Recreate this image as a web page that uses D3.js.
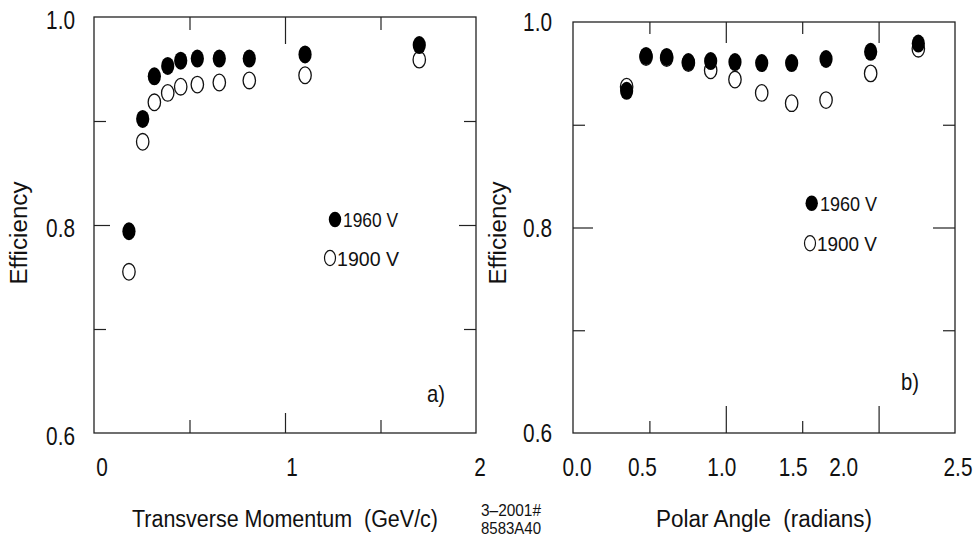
<!DOCTYPE html>
<html>
<head>
<meta charset="utf-8">
<script src="https://cdn.jsdelivr.net/npm/d3@7"></script>
<style>
  html, body { margin: 0; padding: 0; background: #fff; }
  svg { display: block; }
  text { font-family: "Liberation Sans", Arial, Helvetica, sans-serif; fill: #111; white-space: pre; }
</style>
</head>
<body>
<svg id="chart" width="977" height="546"></svg>
<script>
// ---- Data ----
const momentumX   = [0.183, 0.255, 0.316, 0.386, 0.454, 0.541, 0.656, 0.813, 1.105, 1.703];
const momentum1960 = [0.794, 0.902, 0.943, 0.953, 0.958, 0.960, 0.960, 0.960, 0.964, 0.973];
const momentum1900 = [0.755, 0.880, 0.918, 0.927, 0.933, 0.935, 0.937, 0.939, 0.944, 0.959];

const angleX    = [0.351, 0.478, 0.613, 0.755, 0.901, 1.060, 1.235, 1.431, 1.656, 1.948, 2.260];
const angle1960 = [0.933, 0.967, 0.966, 0.961, 0.962, 0.961, 0.960, 0.960, 0.964, 0.971, 0.979];
const angle1900 = [0.937, 0.966, 0.965, 0.960, 0.953, 0.944, 0.931, 0.921, 0.924, 0.950, 0.974];

const seriesNames = ["1960 V", "1900 V"];
const yTickLabels = ["1.0", "0.8", "0.6"];
const yTickValues = [1.0, 0.8, 0.6];
const yMajor = [0.8];
const yMinor = [0.9, 0.7];
const leftXTickLabels = ["0", "1", "2"];
const leftXTickValues = [0, 1, 2];
const leftXMajor = [1];
const leftXMinor = [0.5, 1.5];
const rightXTickLabels = ["0.0", "0.5", "1.0", "1.5", "2.0", "2.5"];
const rightXTickValues = [0, 0.5, 1.0, 1.5, 2.0, 2.5];
const rightXMajor = [1.0, 2.0];
const rightXMinor = [0.5, 1.5];

// ---- Drawing ----
const svg = d3.select("#chart");
svg.append("rect").attr("width", 977).attr("height", 546).attr("fill", "#fff");

function addText(parent, x, y, str, o) {
  const g = parent.append("g").attr("transform", `translate(${x},${y})` + (o.rotate ? ` rotate(${o.rotate})` : ""));
  const t = g.append("text").text(str)
    .attr("xml:space", "preserve")
    .attr("font-size", o.size)
    .attr("text-anchor", o.anchor || "start");
  if (o.len) {
    t.attr("textLength", o.len).attr("lengthAdjust", "spacingAndGlyphs");
  } else {
    t.attr("transform", `scale(${o.sx || 0.82},1)`);
  }
  return t;
}

function tickAxis(g, axisFn, scale, values, len, translate) {
  const ax = axisFn(scale).tickValues(values).tickSizeInner(-len).tickSizeOuter(0).tickFormat("");
  const a = g.append("g").attr("transform", translate).call(ax);
  a.select(".domain").remove();
  a.selectAll(".tick line").attr("stroke", "#222").attr("stroke-width", 1.2);
}

function panel(cfg) {
  const g = svg.append("g");
  const x = d3.scaleLinear().domain(cfg.xDomain).range([cfg.x0, cfg.x1]);
  const y = d3.scaleLinear().domain([0.6, 1.0]).range([cfg.y1, cfg.y0]);

  // frame
  g.append("rect").attr("x", cfg.x0).attr("y", cfg.y0)
    .attr("width", cfg.x1 - cfg.x0).attr("height", cfg.y1 - cfg.y0)
    .attr("fill", "none").attr("stroke", "#222").attr("stroke-width", 1.3);

  // ticks (inward)
  tickAxis(g, d3.axisBottom, x, cfg.xMajor, cfg.tk.bottomMajor, `translate(0,${cfg.y1})`);
  tickAxis(g, d3.axisBottom, x, cfg.xMinor, cfg.tk.bottomMinor, `translate(0,${cfg.y1})`);
  tickAxis(g, d3.axisTop, x, cfg.xMajor, cfg.tk.topMajor, `translate(0,${cfg.y0})`);
  tickAxis(g, d3.axisTop, x, cfg.xMinor, cfg.tk.topMinor, `translate(0,${cfg.y0})`);
  tickAxis(g, d3.axisLeft, y, yMajor, cfg.tk.leftMajor, `translate(${cfg.x0},0)`);
  tickAxis(g, d3.axisLeft, y, yMinor, cfg.tk.minorY, `translate(${cfg.x0},0)`);
  tickAxis(g, d3.axisRight, y, yMajor, cfg.tk.rightMajor, `translate(${cfg.x1},0)`);
  tickAxis(g, d3.axisRight, y, yMinor, cfg.tk.minorY, `translate(${cfg.x1},0)`);

  // tick labels
  yTickValues.forEach((v, i) => {
    addText(g, cfg.yLabelRight, y(v) + cfg.yLabelDy, yTickLabels[i], {size: 26, anchor: "end", sx: 0.8});
  });
  cfg.xTickValues.forEach((v, i) => {
    addText(g, x(v) + cfg.xNudge[i], 476, cfg.xTickLabels[i], {size: 26, anchor: "middle", sx: 0.8});
  });

  // axis titles
  addText(g, (cfg.x0 + cfg.x1) / 2, 527, cfg.xTitle, {size: 23, anchor: "middle", len: cfg.xTitleLen});
  addText(g, cfg.yTitleX, 233, "Efficiency", {size: 23, anchor: "middle", rotate: -90, len: 103});

  // data: open first, filled on top
  const pts = cfg.xs.map((xv, i) => ({x: xv, a: cfg.s1960[i], b: cfg.s1900[i]}));
  g.selectAll(".open").data(pts).enter().append("ellipse")
    .attr("cx", d => x(d.x)).attr("cy", d => y(d.b))
    .attr("rx", 6.2).attr("ry", 8.3)
    .attr("fill", "#fff").attr("stroke", "#111").attr("stroke-width", 1.3);
  g.selectAll(".filled").data(pts).enter().append("ellipse")
    .attr("cx", d => x(d.x)).attr("cy", d => y(d.a))
    .attr("rx", 6.6).attr("ry", 9)
    .attr("fill", "#000");

  // legend
  const L = cfg.legend;
  g.append("ellipse").attr("cx", L.fx).attr("cy", L.fy).attr("rx", 6.2).attr("ry", 7.8).attr("fill", "#000");
  addText(g, L.tx1, L.fy + 7.5, seriesNames[0], {size: 21, len: L.w1});
  g.append("ellipse").attr("cx", L.ox).attr("cy", L.oy).attr("rx", 5.5).attr("ry", 7.6)
    .attr("fill", "#fff").attr("stroke", "#111").attr("stroke-width", 1.2);
  addText(g, L.tx2, L.oy + 7.5, seriesNames[1], {size: 21, len: L.w2});

  // panel tag
  addText(g, cfg.tag.x, cfg.tag.y, cfg.tag.text, {size: 23, sx: 0.88});
}

panel({
  xDomain: [0, 2], x0: 94, x1: 476, y0: 17, y1: 433,
  xMajor: leftXMajor, xMinor: leftXMinor,
  xTickValues: leftXTickValues, xTickLabels: leftXTickLabels, xNudge: [8, 7, 4],
  tk: {bottomMajor: 20, bottomMinor: 13, topMajor: 27, topMinor: 13, leftMajor: 16, rightMajor: 17, minorY: 12},
  yLabelRight: 75, yLabelDy: 12,
  xTitle: "Transverse Momentum  (GeV/c)", xTitleLen: 306,
  yTitleX: 27,
  xs: momentumX, s1960: momentum1960, s1900: momentum1900,
  legend: {fx: 335, fy: 219.5, tx1: 343, w1: 55, ox: 330, oy: 258, tx2: 337, w2: 62},
  tag: {x: 427, y: 402, text: "a)"}
});

panel({
  xDomain: [0, 2.5], x0: 573, x1: 955, y0: 22, y1: 433,
  xMajor: rightXMajor, xMinor: rightXMinor,
  xTickValues: rightXTickValues, xTickLabels: rightXTickLabels, xNudge: [4, -7, -4, -9, -35, 3],
  tk: {bottomMajor: 27, bottomMinor: 12, topMajor: 21, topMinor: 12, leftMajor: 20, rightMajor: 22, minorY: 12},
  yLabelRight: 552, yLabelDy: 9,
  xTitle: "Polar Angle  (radians)", xTitleLen: 216,
  yTitleX: 506,
  xs: angleX, s1960: angle1960, s1900: angle1900,
  legend: {fx: 811.7, fy: 203.3, tx1: 820, w1: 57, ox: 810, oy: 243.3, tx2: 817, w2: 60},
  tag: {x: 901, y: 390, text: "b)"}
});

// figure code
addText(svg, 481, 516, "3\u20132001#", {size: 16, len: 60});
addText(svg, 481, 534, "8583A40", {size: 16, len: 60});
</script>
</body>
</html>
